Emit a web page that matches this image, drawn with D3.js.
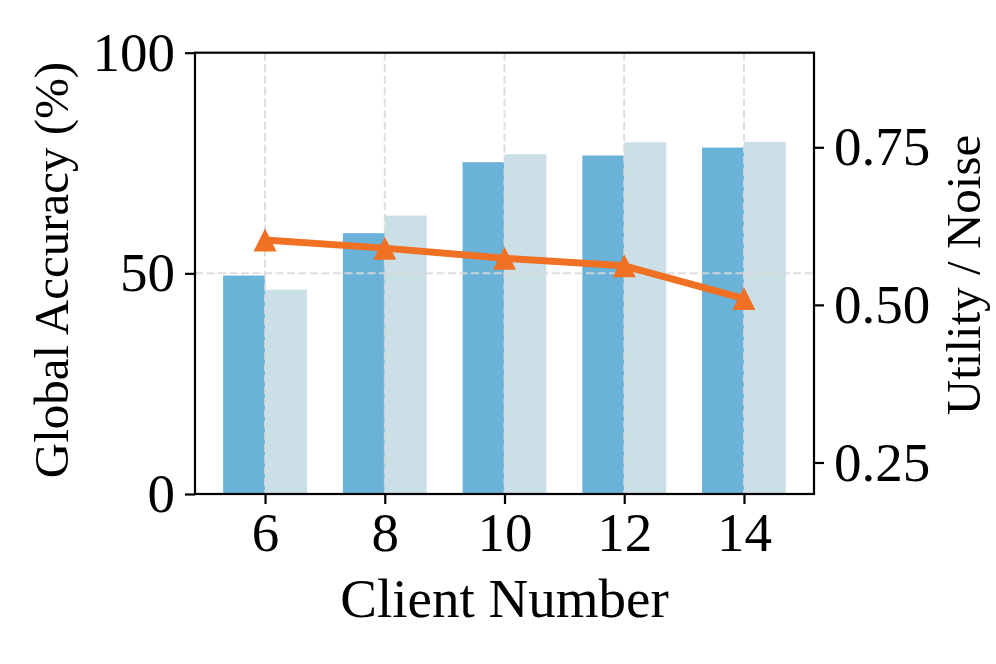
<!DOCTYPE html>
<html><head><meta charset="utf-8">
<script src="https://cdn.jsdelivr.net/npm/d3@7"></script>
<style>body{margin:0;background:#fff}svg{display:block}</style>
</head><body>
<svg id="c" width="996" height="664"></svg>
<script>
const categories = ["6", "8", "10", "12", "14"];
const accA = [49.5, 59.1, 75.2, 76.7, 78.5];
const accB = [46.3, 63.1, 77.0, 79.7, 79.8];
const utility = [0.603, 0.590, 0.574, 0.562, 0.510];
const leftTicks = [0, 50, 100];
const rightTicks = [0.25, 0.50, 0.75];

const svg = d3.select("#c");
const L = 195, R = 814, T = 52.7, B = 494;
const font = "Liberation Serif, Times New Roman, serif";
const fs = 55;
const fsY = 49;

const x = d3.scaleLinear().domain([-0.585, 4.585]).range([L, R]);
const y = d3.scaleLinear().domain([0, 100]).range([B, T]);
const y2 = d3.scaleLinear().domain([0.2, 0.9]).range([B, T]);
const bw = 0.35;

const g = svg.append("g");
// bars
g.selectAll("rect.a").data(accA).join("rect")
  .attr("x", (d, i) => x(i - bw)).attr("width", x(bw) - x(0))
  .attr("y", d => y(d)).attr("height", d => y(0) - y(d))
  .attr("fill", "#6BB2D8");
g.selectAll("rect.b").data(accB).join("rect")
  .attr("x", (d, i) => x(i)).attr("width", x(bw) - x(0))
  .attr("y", d => y(d)).attr("height", d => y(0) - y(d))
  .attr("fill", "#CBDFE6");

// grid
const grid = g.append("g").attr("stroke", "#d9d9d9").attr("stroke-width", 2).attr("stroke-dasharray", "8,3.5").attr("opacity", 0.85);
grid.selectAll("line.v").data(categories).join("line")
  .attr("x1", (d, i) => x(i)).attr("x2", (d, i) => x(i)).attr("y1", T).attr("y2", B);
grid.selectAll("line.h").data(leftTicks.filter(t => t > 0 && t < 100)).join("line")
  .attr("x1", L).attr("x2", R).attr("y1", d => y(d)).attr("y2", d => y(d));

// line
const line = d3.line().x((d, i) => x(i)).y(d => y2(d));
g.append("path").datum(utility).attr("d", line)
  .attr("fill", "none").attr("stroke", "#F07024").attr("stroke-width", 7).attr("stroke-linejoin", "round");
const ms = 23;
g.selectAll("path.m").data(utility).join("path")
  .attr("transform", (d, i) => `translate(${x(i)},${y2(d)})`)
  .attr("d", `M0,${-ms/2} L${ms/2},${ms/2} L${-ms/2},${ms/2} Z`)
  .attr("fill", "#F07024");

// frame
svg.append("rect").attr("x", L).attr("y", T).attr("width", R - L).attr("height", B - T)
  .attr("fill", "none").attr("stroke", "#000").attr("stroke-width", 2.2);

function styleAxis(sel) {
  sel.select(".domain").remove();
  sel.selectAll(".tick line").attr("stroke", "#000").attr("stroke-width", 2.2);
  sel.selectAll(".tick text").attr("font-family", font).attr("font-size", fs).attr("fill", "#000");
}
const xa = svg.append("g").attr("transform", `translate(0,${B})`)
  .call(d3.axisBottom(x).tickValues(d3.range(categories.length)).tickFormat(i => categories[i]).tickSize(10).tickPadding(8));
styleAxis(xa);
const ya = svg.append("g").attr("transform", `translate(${L},0)`)
  .call(d3.axisLeft(y).tickValues(leftTicks).tickSize(10).tickPadding(10));
styleAxis(ya);
const ya2 = svg.append("g").attr("transform", `translate(${R},0)`)
  .call(d3.axisRight(y2).tickValues(rightTicks).tickFormat(d3.format(".2f")).tickSize(10).tickPadding(10));
styleAxis(ya2);

svg.append("text").attr("x", (L + R) / 2).attr("y", 617).attr("text-anchor", "middle")
  .attr("font-family", font).attr("font-size", fs).text("Client Number");
svg.append("text").attr("transform", `translate(68,270) rotate(-90)`).attr("text-anchor", "middle")
  .attr("font-family", font).attr("font-size", fsY).text("Global Accuracy (%)");
svg.append("text").attr("transform", `translate(980,275) rotate(-90)`).attr("text-anchor", "middle")
  .attr("font-family", font).attr("font-size", fsY).text("Utility / Noise");
</script>
</body></html>
